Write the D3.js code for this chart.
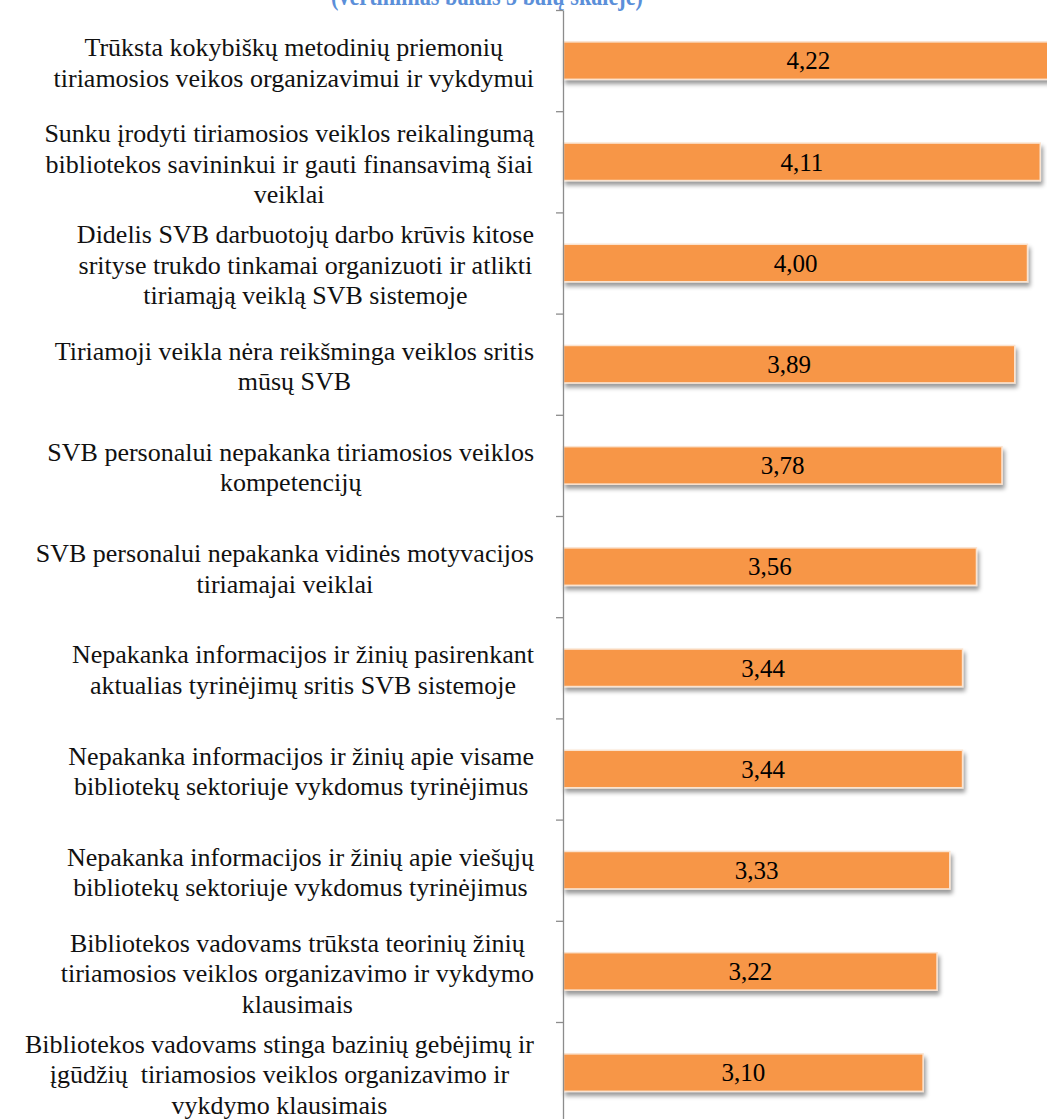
<!DOCTYPE html>
<html>
<head>
<meta charset="utf-8">
<script src="https://cdn.jsdelivr.net/npm/d3@7"></script>
<style>
  html, body { margin: 0; padding: 0; background: #ffffff; }
  svg { display: block; }
  svg text { white-space: pre; }
</style>
</head>
<body>
<svg id="chart" width="1047" height="1119"></svg>
<script>
// Survey obstacles (mean score on a 5-point scale)
const categories = [
  ["Trūksta kokybiškų metodinių priemonių", "tiriamosios veikos organizavimui ir vykdymui"],
  ["Sunku įrodyti tiriamosios veiklos reikalingumą", "bibliotekos savininkui ir gauti finansavimą šiai", "veiklai"],
  ["Didelis SVB darbuotojų darbo krūvis kitose", "srityse trukdo tinkamai organizuoti ir atlikti", "tiriamąją veiklą SVB sistemoje"],
  ["Tiriamoji veikla nėra reikšminga veiklos sritis", "mūsų SVB"],
  ["SVB personalui nepakanka tiriamosios veiklos", "kompetencijų"],
  ["SVB personalui nepakanka vidinės motyvacijos", "tiriamajai veiklai"],
  ["Nepakanka informacijos ir žinių pasirenkant", "aktualias tyrinėjimų sritis SVB sistemoje"],
  ["Nepakanka informacijos ir žinių apie visame", "bibliotekų sektoriuje vykdomus tyrinėjimus"],
  ["Nepakanka informacijos ir žinių apie viešųjų", "bibliotekų sektoriuje vykdomus tyrinėjimus"],
  ["Bibliotekos vadovams trūksta teorinių žinių", "tiriamosios veiklos organizavimo ir vykdymo", "klausimais"],
  ["Bibliotekos vadovams stinga bazinių gebėjimų ir", "įgūdžių  tiriamosios veiklos organizavimo ir", "vykdymo klausimais"]
];
const values = [4.22, 4.11, 4.00, 3.89, 3.78, 3.56, 3.44, 3.44, 3.33, 3.22, 3.10];
const valueLabels = ["4,22", "4,11", "4,00", "3,89", "3,78", "3,56", "3,44", "3,44", "3,33", "3,22", "3,10"];
const subtitle = "(vertinimas balais 5 balų skalėje)";

const svg = d3.select("#chart");
const serif = "Liberation Serif, Tinos, Times New Roman, serif";
const fontSize = 26;
const lineHeight = 30.5;

const axisX = 563;
const labelRight = 534;

const y = d3.scaleBand()
  .domain(d3.range(categories.length))
  .range([10, 10 + 101.2 * categories.length])
  .paddingInner(0.63)
  .paddingOuter(0.315);

const x = d3.scaleLinear()
  .domain([0, 5])
  .range([axisX + 0.5, axisX + 0.5 + 5 * 116]);

// drop shadow for bars
const defs = svg.append("defs");
const shadow = defs.append("filter")
  .attr("id", "barShadow")
  .attr("x", "-5%").attr("y", "-30%")
  .attr("width", "115%").attr("height", "190%");
shadow.append("feDropShadow")
  .attr("dx", 2).attr("dy", 4)
  .attr("stdDeviation", 2.2)
  .attr("flood-color", "#000")
  .attr("flood-opacity", 0.4);

// subtitle (runs off the top edge)
svg.append("text")
  .attr("x", 487)
  .attr("y", 5)
  .attr("text-anchor", "middle")
  .style("font-family", serif)
  .attr("font-weight", "bold")
  .attr("font-size", 27)
  .attr("textLength", 312)
  .attr("lengthAdjust", "spacingAndGlyphs")
  .attr("fill", "#5b8fd9")
  .text(subtitle);

// bars
svg.append("g")
  .selectAll("rect")
  .data(values)
  .join("rect")
  .attr("x", x(0))
  .attr("y", (d, i) => y(i))
  .attr("width", d => x(d) - x(0))
  .attr("height", y.bandwidth())
  .attr("fill", "#f79646")
  .attr("stroke", "#fbe3cf")
  .attr("stroke-width", 1.5)
  .attr("filter", "url(#barShadow)");

// value labels
svg.append("g")
  .selectAll("text")
  .data(values)
  .join("text")
  .attr("x", d => (x(0) + x(d)) / 2)
  .attr("y", (d, i) => y(i) + y.bandwidth() / 2 + fontSize * 0.34)
  .attr("text-anchor", "middle")
  .style("font-family", serif)
  .attr("font-size", 25)
  .attr("fill", "#000")
  .text((d, i) => valueLabels[i]);

// category axis: vertical line with ticks at band boundaries
const yBound = d3.scaleLinear()
  .domain([0, categories.length])
  .range([10, 10 + 101.2 * categories.length]);
const axisG = svg.append("g")
  .attr("transform", `translate(${axisX},0)`);
const axis = d3.axisLeft(yBound)
  .tickValues(d3.range(0, categories.length + 1))
  .tickSize(7)
  .tickSizeOuter(0)
  .tickFormat("");
axisG.call(axis);
axisG.selectAll("path, line")
  .attr("stroke", "#8c8c8c")
  .attr("stroke-width", 1.3);

// wrapped category labels, lines centered within a right-aligned block
const labelG = svg.append("g");
categories.forEach((lines, i) => {
  const g = labelG.append("g");
  const cy = y(i) + y.bandwidth() / 2 + 2;
  const texts = g.selectAll("text")
    .data(lines)
    .join("text")
    .style("font-family", serif)
    .attr("font-size", fontSize)
    .attr("fill", "#111")
    .attr("text-anchor", "middle")
    .attr("y", (d, k) => cy + (k - (lines.length - 1) / 2) * lineHeight + fontSize * 0.34)
    .text(d => d);
  let maxW = 0;
  texts.each(function () { maxW = Math.max(maxW, this.getComputedTextLength()); });
  texts.attr("x", labelRight - maxW / 2);
});
</script>
</body>
</html>
